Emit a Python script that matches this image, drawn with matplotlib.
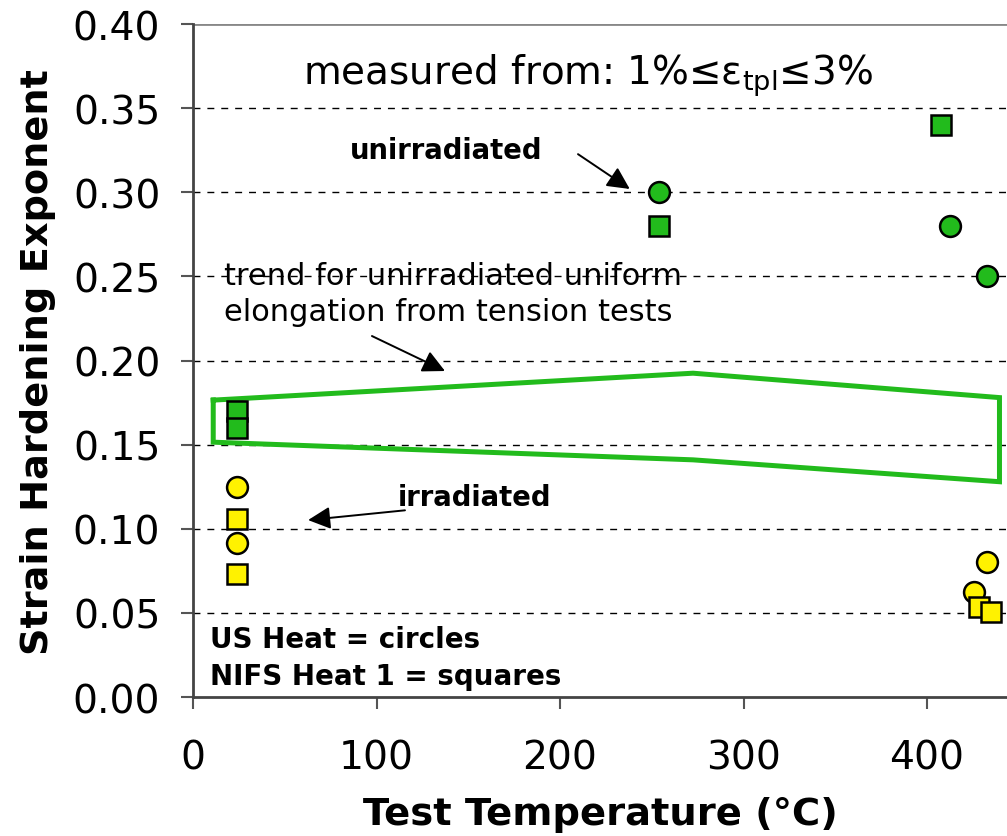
import matplotlib
matplotlib.use("Agg")
import matplotlib.pyplot as plt

# Data
green_circ_T = [254, 412.5, 432.7]
green_circ_n = [0.300, 0.280, 0.250]
green_sq_T = [407.6, 254, 24, 24]
green_sq_n = [0.340, 0.280, 0.170, 0.160]
yel_circ_T = [24, 24, 432.5, 425.8]
yel_circ_n = [0.125, 0.0915, 0.080, 0.0625]
yel_sq_T = [24, 24, 428.5, 434.9]
yel_sq_n = [0.106, 0.073, 0.0535, 0.0505]
trend_T = [11, 272.5, 439.5, 439.5, 272.5, 11, 11]
trend_n = [0.1765, 0.1925, 0.178, 0.128, 0.141, 0.1515, 0.1765]

xticks = [0, 100, 200, 300, 400]
yticks = [0.00, 0.05, 0.10, 0.15, 0.20, 0.25, 0.30, 0.35, 0.40]

GREEN = '#22bb1c'
YELLOW = '#fff200'

plt.rcParams['font.family'] = ['DejaVu Sans']
fig = plt.figure(figsize=(10.07, 8.37), dpi=100)
ax = fig.add_axes([0.1917, 0.166, 0.8083, 0.804])
ax.set_xlim(0, 443.6)
ax.set_ylim(0, 0.40)

for y in yticks[1:-1]:
    ax.axhline(y, color='black', lw=1.0, ls=(0, (5, 5)), zorder=1)
ax.axhline(0.40, color='#888888', lw=2.0, zorder=1)

ax.plot(trend_T, trend_n, color=GREEN, lw=3.6, zorder=2, solid_joinstyle='miter')

ms = 15
mew = 1.8
ax.plot(green_sq_T, green_sq_n, 's', ms=ms, mfc=GREEN, mec='black', mew=mew, ls='none', zorder=3)
ax.plot(green_circ_T, green_circ_n, 'o', ms=ms, mfc=GREEN, mec='black', mew=mew, ls='none', zorder=3)
ax.plot(yel_circ_T, yel_circ_n, 'o', ms=ms, mfc=YELLOW, mec='black', mew=mew, ls='none', zorder=3)
ax.plot(yel_sq_T, yel_sq_n, 's', ms=ms, mfc=YELLOW, mec='black', mew=mew, ls='none', zorder=3)

for s in ['top', 'right']:
    ax.spines[s].set_visible(False)
for s in ['left', 'bottom']:
    ax.spines[s].set_color('#444444')
    ax.spines[s].set_linewidth(2.0)

ax.set_xticks(xticks)
ax.set_xticklabels([str(t) for t in xticks])
ax.set_yticks(yticks)
ax.set_yticklabels(['%.2f' % t for t in yticks])
ax.tick_params(axis='both', direction='out', length=8.6, width=1.5, color='#555555',
               labelsize=28.3)
ax.tick_params(axis='y', pad=15)
ax.tick_params(axis='x', pad=21)

ax.set_xlabel('Test Temperature (°C)', fontsize=27.7, fontweight='bold', labelpad=14)
ax.set_ylabel('Strain Hardening Exponent', fontsize=27.5, fontweight='bold', labelpad=12)

ax.text(215, 0.370, r'measured from: 1%≤ε$_\mathregular{tpl}$≤3%', fontsize=28,
        ha='center', va='center')

arrow = dict(arrowstyle='-|>', mutation_scale=34, lw=1.4, color='black',
             shrinkA=0, shrinkB=0)

ax.text(85.6, 0.325, 'unirradiated', fontsize=19.8, fontweight='bold', ha='left', va='center')
ax.annotate('', xy=(238, 0.302), xytext=(209.8, 0.3227), arrowprops=arrow)

ax.text(17, 0.240, 'trend for unirradiated uniform\nelongation from tension tests', fontsize=22,
        ha='left', va='center', linespacing=1.3)
ax.annotate('', xy=(137.3, 0.1938), xytext=(97.5, 0.2146), arrowprops=arrow)

ax.text(111.7, 0.1189, 'irradiated', fontsize=19.8, fontweight='bold', ha='left', va='center')
ax.annotate('', xy=(62.7, 0.1052), xytext=(115.5, 0.111), arrowprops=arrow)

ax.text(9.3, 0.0345, 'US Heat = circles', fontsize=20, fontweight='bold', ha='left', va='center')
ax.text(9.3, 0.0125, 'NIFS Heat 1 = squares', fontsize=20, fontweight='bold', ha='left', va='center')

fig.savefig('out.png', dpi=100)
